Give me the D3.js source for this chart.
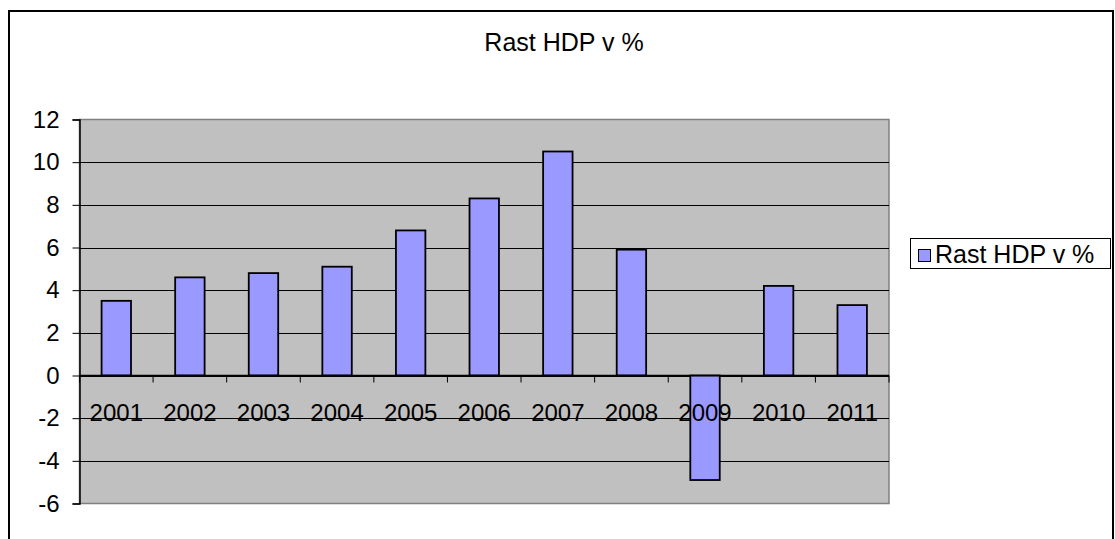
<!DOCTYPE html>
<html>
<head>
<meta charset="utf-8">
<script src="https://cdn.jsdelivr.net/npm/d3@7"></script>
<style>
  html, body { margin: 0; padding: 0; background: #fff; }
  svg { display: block; font-family: "Liberation Sans", Arial, sans-serif; }
</style>
</head>
<body>
<svg id="chart" width="1115" height="539"></svg>
<script>
// GDP growth by year (%)
const years = ["2001", "2002", "2003", "2004", "2005", "2006", "2007", "2008", "2009", "2010", "2011"];
const growth = [3.5, 4.6, 4.8, 5.1, 6.8, 8.3, 10.5, 5.9, -4.9, 4.2, 3.3];
const yTicks = [-6, -4, -2, 0, 2, 4, 6, 8, 10, 12];
const seriesName = "Rast HDP v %";
const chartTitle = "Rast HDP v %";

const svg = d3.select("#chart");

// outer chart frame
svg.append("rect")
  .attr("x", 9).attr("y", 11)
  .attr("width", 1104).attr("height", 540)
  .attr("fill", "#fff")
  .attr("stroke", "#000").attr("stroke-width", 2);

const plot = { left: 79.5, right: 889, top: 119.5, bottom: 503.5 };

const x = d3.scaleBand()
  .domain(years)
  .range([plot.left, plot.right])
  .paddingInner(0.6)
  .paddingOuter(0.3);

const xBounds = d3.scaleLinear()
  .domain([0, years.length])
  .range([plot.left, plot.right]);

const y = d3.scaleLinear()
  .domain([-6, 12])
  .range([plot.bottom, plot.top]);

// plot background
svg.append("rect")
  .attr("x", plot.left).attr("y", plot.top)
  .attr("width", plot.right - plot.left)
  .attr("height", plot.bottom - plot.top)
  .attr("fill", "#c0c0c0")
  .attr("stroke", "#808080").attr("stroke-width", 1.5);

// horizontal gridlines
svg.append("g")
  .selectAll("line")
  .data(yTicks.filter(t => t !== 12 && t !== -6))
  .join("line")
  .attr("x1", plot.left).attr("x2", plot.right)
  .attr("y1", d => Math.round(y(d)) + 0.5)
  .attr("y2", d => Math.round(y(d)) + 0.5)
  .attr("stroke", "#000").attr("stroke-width", 1);

// bars
svg.append("g")
  .selectAll("rect")
  .data(years.map((yr, i) => ({ yr, v: growth[i] })))
  .join("rect")
  .attr("x", d => x(d.yr))
  .attr("width", x.bandwidth())
  .attr("y", d => y(Math.max(0, d.v)))
  .attr("height", d => Math.abs(y(d.v) - y(0)))
  .attr("fill", "#9999ff")
  .attr("stroke", "#000").attr("stroke-width", 1.8);

// y axis (plain hyphen for negatives)
const yAxis = d3.axisLeft(y)
  .tickValues(yTicks)
  .tickFormat(d => String(d))
  .tickSize(7)
  .tickPadding(13);
const gy = svg.append("g")
  .attr("transform", `translate(${plot.left},0)`)
  .call(yAxis);
gy.select(".domain").attr("stroke", "#000").attr("stroke-width", 1.5);
gy.selectAll(".tick line").attr("stroke", "#000");
gy.selectAll(".tick text")
  .attr("font-size", 24)
  .attr("font-family", "Liberation Sans, Arial, sans-serif")
  .attr("fill", "#000");

// category axis along zero
const gx = svg.append("g");
gx.append("line")
  .attr("x1", plot.left).attr("x2", plot.right)
  .attr("y1", y(0)).attr("y2", y(0))
  .attr("stroke", "#000").attr("stroke-width", 1.5);
gx.selectAll("line.tk")
  .data(d3.range(years.length + 1))
  .join("line")
  .attr("class", "tk")
  .attr("x1", d => xBounds(d)).attr("x2", d => xBounds(d))
  .attr("y1", y(0)).attr("y2", y(0) + 7)
  .attr("stroke", "#000").attr("stroke-width", 1);
gx.selectAll("text")
  .data(years)
  .join("text")
  .attr("x", d => x(d) + x.bandwidth() / 2)
  .attr("y", y(0) + 45)
  .attr("text-anchor", "middle")
  .attr("font-size", 24)
  .attr("fill", "#000")
  .text(d => d);

// title
svg.append("text")
  .attr("x", 564).attr("y", 51)
  .attr("text-anchor", "middle")
  .attr("font-size", 25)
  .attr("fill", "#000")
  .text(chartTitle);

// legend
const lg = svg.append("g").attr("transform", "translate(910,238)");
lg.append("rect")
  .attr("x", 0.5).attr("y", 0.5)
  .attr("width", 200).attr("height", 30)
  .attr("fill", "#fff").attr("stroke", "#000").attr("stroke-width", 1);
lg.append("rect")
  .attr("x", 8.5).attr("y", 11.5)
  .attr("width", 12).attr("height", 12)
  .attr("fill", "#9999ff").attr("stroke", "#000").attr("stroke-width", 1);
lg.append("text")
  .attr("x", 25).attr("y", 25)
  .attr("font-size", 25)
  .attr("fill", "#000")
  .text(seriesName);
</script>
</body>
</html>
